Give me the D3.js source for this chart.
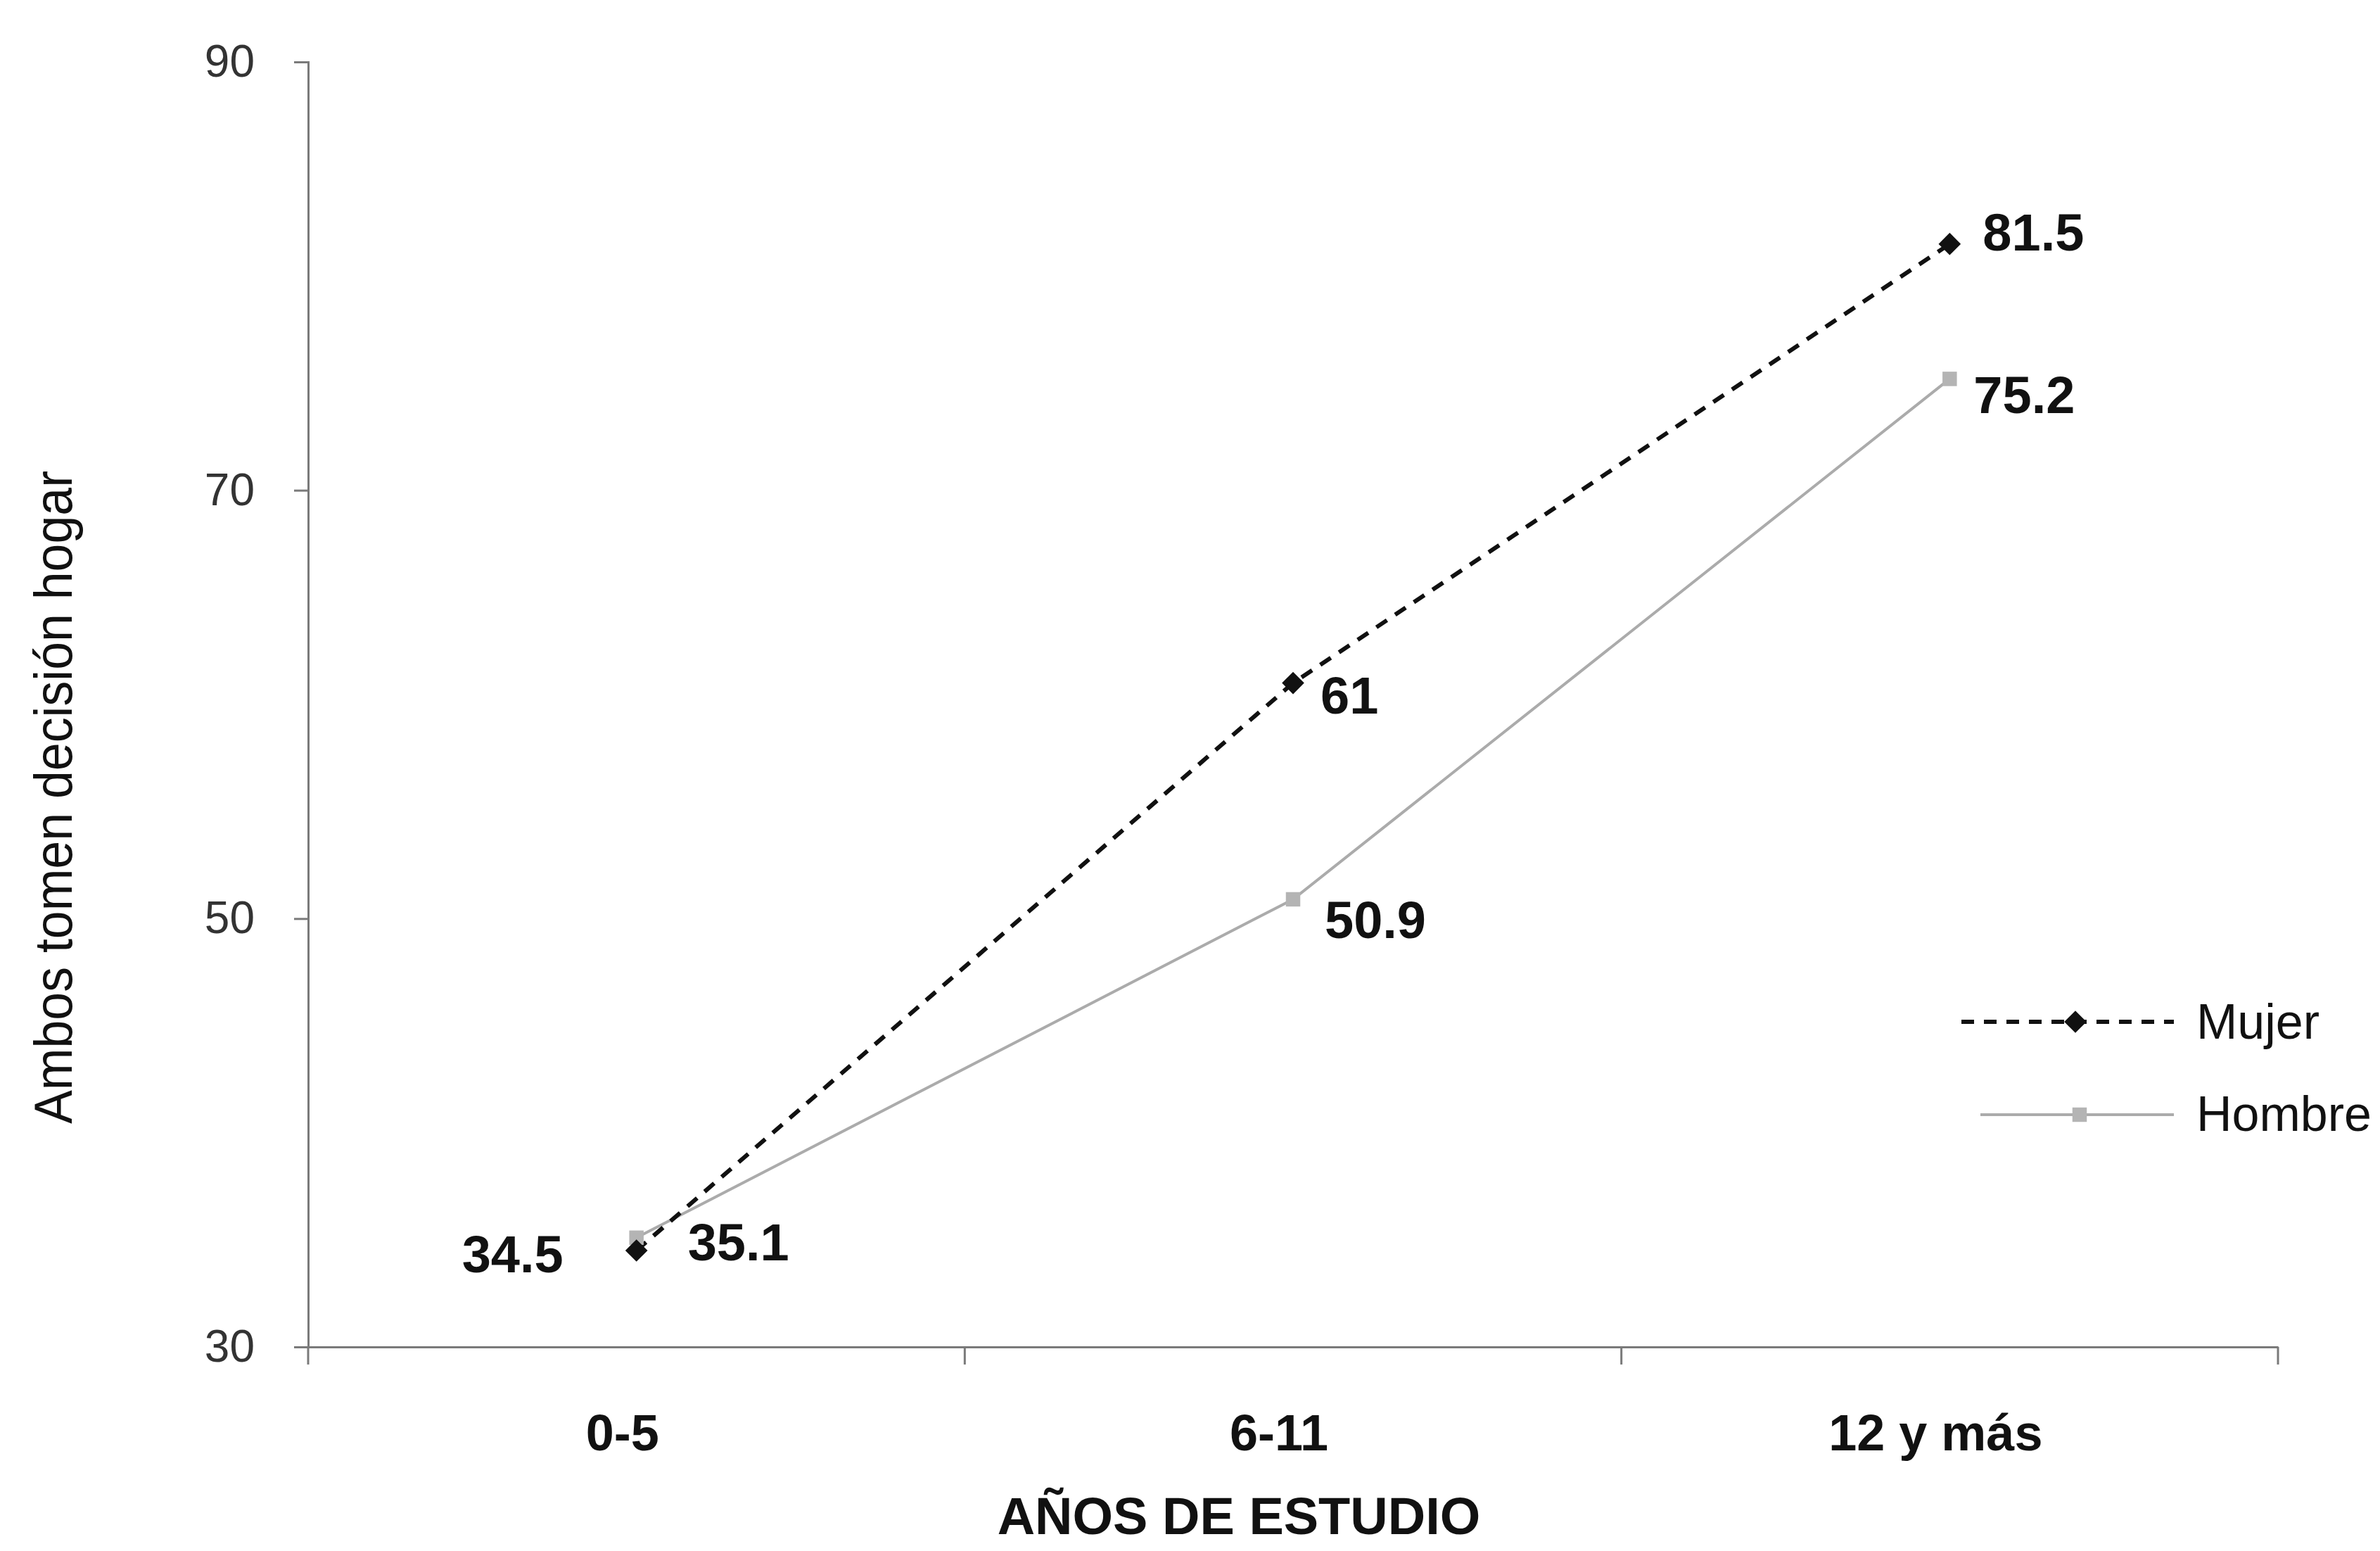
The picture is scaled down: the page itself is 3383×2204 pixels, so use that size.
<!DOCTYPE html>
<html>
<head>
<meta charset="utf-8">
<script src="https://cdn.jsdelivr.net/npm/d3@7"></script>
<style>
  html, body { margin: 0; padding: 0; background: #fff; }
  svg { display: block; }
  text { font-family: "Liberation Sans", Arial, sans-serif; }
</style>
</head>
<body>
<script>
// ---- Data ----
const categories = ["0-5", "6-11", "12 y más"];
const mujer = [34.5, 61, 81.5];
const hombre = [35.1, 50.9, 75.2];
const yTicks = [30, 50, 70, 90];
const seriesNames = ["Mujer", "Hombre"];
const yTitle = "Ambos tomen decisión hogar";
const xTitle = "AÑOS DE ESTUDIO";

// ---- Layout ----
const W = 3383, H = 2204;
const margin = { left: 438, right: 145, top: 88, bottom: 290 };
const iw = W - margin.left - margin.right;
const ih = H - margin.top - margin.bottom;

const svg = d3.select("body").append("svg").attr("width", W).attr("height", H);
const g = svg.append("g").attr("transform", `translate(${margin.left},${margin.top})`);

const x = d3.scaleBand().domain(categories).range([0, iw]).padding(0);
const y = d3.scaleLinear().domain([30, 90]).range([ih, 0]);
const cx = d => x(d) + x.bandwidth() / 2;

const axisColor = "#7a7a7a";

// Y axis
const yAxis = g.append("g").call(d3.axisLeft(y).tickValues(yTicks).tickSize(20).tickPadding(56));
yAxis.select(".domain").attr("stroke", axisColor).attr("stroke-width", 3);
yAxis.selectAll(".tick line").attr("stroke", axisColor).attr("stroke-width", 3);
yAxis.selectAll(".tick text").attr("font-size", 64).attr("fill", "#333")
  .attr("font-family", "Liberation Sans, Arial, sans-serif");

// X axis (labels)
const xAxis = g.append("g").attr("transform", `translate(0,${ih})`)
  .call(d3.axisBottom(x).tickSize(0).tickPadding(0));
xAxis.select(".domain").attr("stroke", axisColor).attr("stroke-width", 3);
xAxis.selectAll(".tick text").attr("font-size", 72).attr("font-weight", "bold").attr("fill", "#111")
  .attr("font-family", "Liberation Sans, Arial, sans-serif")
  .attr("dy", null).attr("y", 147).attr("dx", -20);
// X boundary ticks
const bounds = categories.map(d => x(d)).concat([x(categories[categories.length - 1]) + x.bandwidth()]);
xAxis.selectAll(".btick").data(bounds).enter().append("line")
  .attr("x1", d => d).attr("x2", d => d).attr("y1", 0).attr("y2", 25)
  .attr("stroke", axisColor).attr("stroke-width", 3);

// Axis titles
svg.append("text")
  .attr("x", margin.left + iw / 2 - 77).attr("y", 2180)
  .attr("text-anchor", "middle").attr("font-size", 74).attr("font-weight", "bold").attr("fill", "#111")
  .text(xTitle);

svg.append("text")
  .attr("transform", `translate(102,1133) rotate(-90)`)
  .attr("text-anchor", "middle").attr("font-size", 76).attr("fill", "#111")
  .attr("textLength", 928).attr("lengthAdjust", "spacingAndGlyphs")
  .style("font-family", "'Liberation Sans Narrow', 'Liberation Sans', Arial, sans-serif")
  .text(yTitle);

// Lines
const line = d3.line().x(d => cx(d.c)).y(d => y(d.v));
const mData = categories.map((c, i) => ({ c, v: mujer[i] }));
const hData = categories.map((c, i) => ({ c, v: hombre[i] }));

const hColor = "#ababab";
g.append("path").datum(hData).attr("d", line).attr("fill", "none")
  .attr("stroke", hColor).attr("stroke-width", 4);
g.append("path").datum(mData).attr("d", line).attr("fill", "none")
  .attr("stroke", "#111").attr("stroke-width", 6).attr("stroke-dasharray", "18,14");

// Markers
const diamond = d3.symbol().type(d3.symbolSquare).size(500);
const square = d3.symbol().type(d3.symbolSquare).size(420);
g.selectAll(".hm").data(hData).enter().append("path")
  .attr("d", square).attr("transform", d => `translate(${cx(d.c)},${y(d.v)})`).attr("fill", "#b4b4b4");
g.selectAll(".mm").data(mData).enter().append("path")
  .attr("d", diamond).attr("transform", d => `translate(${cx(d.c)},${y(d.v)}) rotate(45)`).attr("fill", "#111");

// Data labels (offsets relative to points)
const mOff = [{ dx: -104, dy: 31, a: "end" }, { dx: 39, dy: 43, a: "start" }, { dx: 47, dy: 9, a: "start" }];
const hOff = [{ dx: 73, dy: 32, a: "start" }, { dx: 45, dy: 55, a: "start" }, { dx: 34, dy: 49, a: "start" }];
const labelAttrs = sel => sel.attr("font-size", 74).attr("font-weight", "bold").attr("fill", "#111");
g.selectAll(".ml").data(mData).enter().append("text")
  .attr("x", (d, i) => cx(d.c) + mOff[i].dx).attr("y", (d, i) => y(d.v) + mOff[i].dy)
  .attr("text-anchor", (d, i) => mOff[i].a).call(labelAttrs).text(d => d.v);
g.selectAll(".hl").data(hData).enter().append("text")
  .attr("x", (d, i) => cx(d.c) + hOff[i].dx).attr("y", (d, i) => y(d.v) + hOff[i].dy)
  .attr("text-anchor", (d, i) => hOff[i].a).call(labelAttrs).text(d => d.v);

// Legend
const leg = svg.append("g");
// Mujer
leg.append("line").attr("x1", 2788).attr("x2", 3090).attr("y1", 1452).attr("y2", 1452)
  .attr("stroke", "#111").attr("stroke-width", 6).attr("stroke-dasharray", "18,14");
leg.append("path").attr("d", diamond).attr("transform", "translate(2950,1452) rotate(45)").attr("fill", "#111");
leg.append("text").attr("x", 3122).attr("y", 1476).attr("font-size", 70).attr("fill", "#111").text(seriesNames[0]);
// Hombre
leg.append("line").attr("x1", 2815).attr("x2", 3090).attr("y1", 1584).attr("y2", 1584)
  .attr("stroke", hColor).attr("stroke-width", 4);
leg.append("path").attr("d", square).attr("transform", "translate(2956,1584)").attr("fill", "#b4b4b4");
leg.append("text").attr("x", 3122).attr("y", 1607).attr("font-size", 70).attr("fill", "#111").text(seriesNames[1]);
</script>
</body>
</html>
